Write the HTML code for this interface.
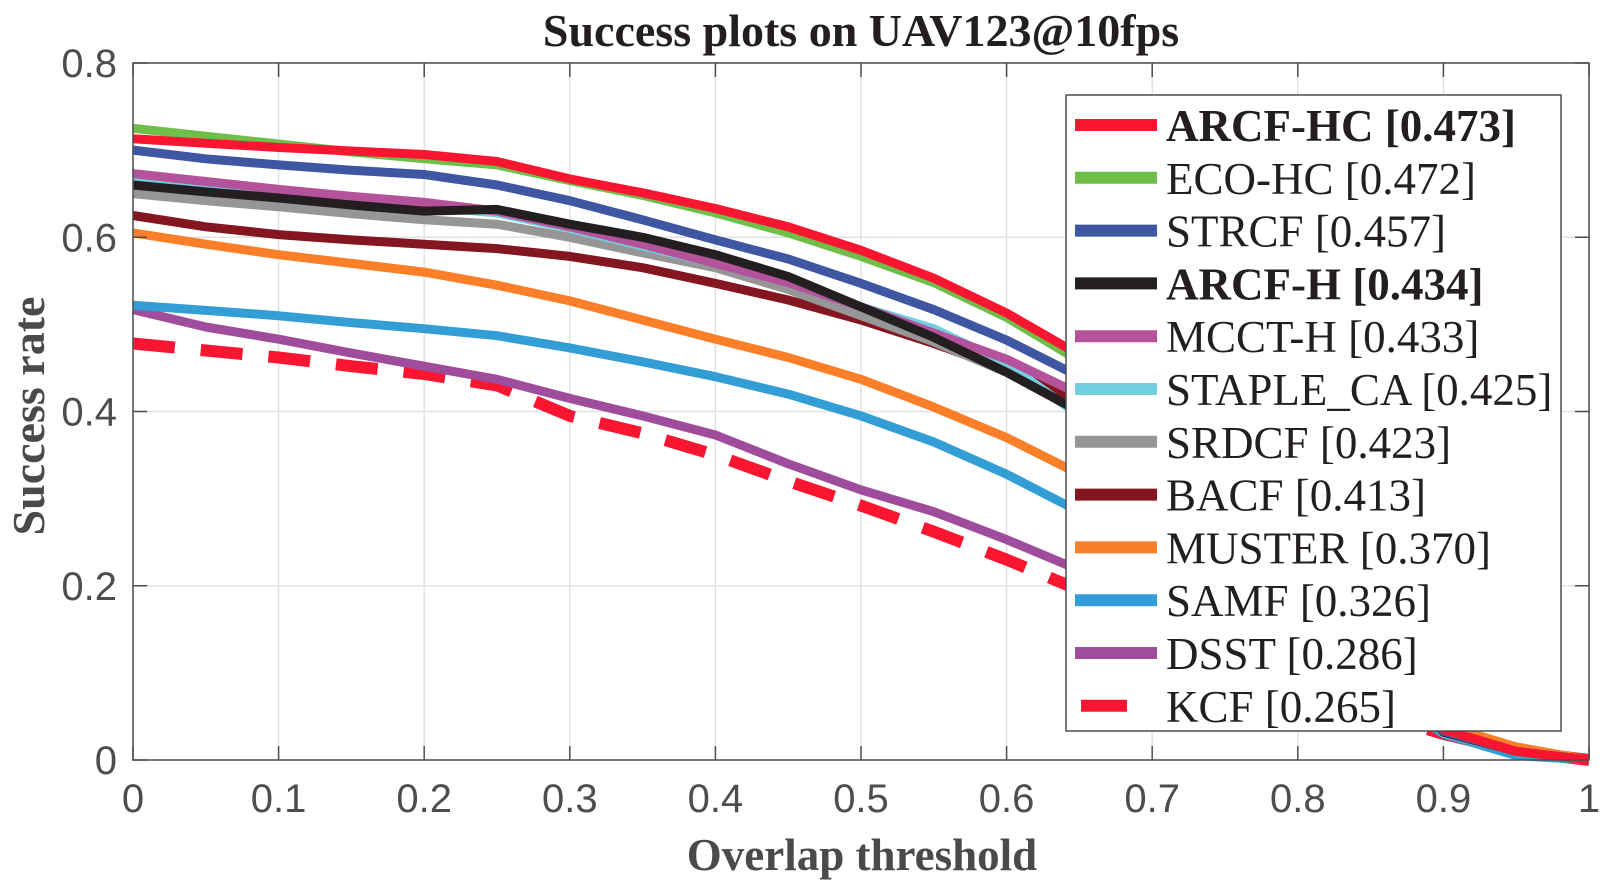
<!DOCTYPE html>
<html><head><meta charset="utf-8"><style>
html,body{margin:0;padding:0;background:#fff;}
svg{display:block;}
</style></head><body>
<svg id="chart" width="1617" height="884" xmlns="http://www.w3.org/2000/svg">
<rect x="0" y="0" width="1617" height="884" fill="#fff"/>
<text x="861" y="46" text-anchor="middle" font-family="Liberation Serif, serif" font-weight="bold" font-size="46" fill="#231f20">Success plots on UAV123@10fps</text>
<g id="grid"></g>
<g id="series"></g>
<g id="axes"></g>
<text x="862" y="870" text-anchor="middle" font-family="Liberation Serif, serif" font-weight="bold" font-size="45" fill="#4a4a4a">Overlap threshold</text>
<text transform="translate(44,416) rotate(-90)" text-anchor="middle" font-family="Liberation Serif, serif" font-weight="bold" font-size="46" fill="#4a4a4a">Success rate</text>
<g id="legend"></g>
</svg>
<script>
const thresholds = [0,0.05,0.1,0.15,0.2,0.25,0.3,0.35,0.4,0.45,0.5,0.55,0.6,0.65,0.7,0.75,0.8,0.85,0.9,0.95,1];
const xTicks = [0,0.1,0.2,0.3,0.4,0.5,0.6,0.7,0.8,0.9,1];
const xTickLabels = ["0","0.1","0.2","0.3","0.4","0.5","0.6","0.7","0.8","0.9","1"];
const yTicks = [0,0.2,0.4,0.6,0.8];
const yTickLabels = ["0","0.2","0.4","0.6","0.8"];
const names = ["ARCF-HC","ECO-HC","STRCF","ARCF-H","MCCT-H","STAPLE_CA","SRDCF","BACF","MUSTER","SAMF","DSST","KCF"];
const scores = ["0.473","0.472","0.457","0.434","0.433","0.425","0.423","0.413","0.370","0.326","0.286","0.265"];
const arcfHC  = [0.713,0.708,0.703,0.699,0.695,0.687,0.667,0.651,0.633,0.612,0.585,0.553,0.513,0.465,0.41,0.34,0.26,0.16,0.035,0.01,0];
const ecoHC   = [0.725,0.716,0.707,0.698,0.690,0.683,0.665,0.648,0.628,0.605,0.578,0.548,0.508,0.458,0.40,0.33,0.25,0.155,0.035,0.01,0];
const strcf   = [0.700,0.690,0.683,0.677,0.672,0.660,0.642,0.620,0.597,0.575,0.547,0.517,0.482,0.440,0.38,0.31,0.235,0.145,0.033,0.01,0];
const arcfH   = [0.660,0.652,0.645,0.637,0.630,0.632,0.615,0.600,0.580,0.555,0.520,0.485,0.445,0.400,0.35,0.29,0.22,0.135,0.032,0.01,0];
const mcctH   = [0.673,0.664,0.655,0.647,0.640,0.630,0.612,0.592,0.570,0.548,0.520,0.490,0.460,0.420,0.36,0.295,0.22,0.135,0.032,0.01,0];
const stapleCA= [0.665,0.657,0.650,0.642,0.635,0.628,0.610,0.590,0.570,0.548,0.520,0.495,0.455,0.395,0.345,0.285,0.215,0.13,0.031,0.01,0];
const srdcf   = [0.650,0.642,0.635,0.627,0.620,0.615,0.600,0.582,0.565,0.540,0.510,0.480,0.445,0.400,0.345,0.285,0.215,0.13,0.031,0.01,0];
const bacf    = [0.625,0.612,0.603,0.597,0.592,0.587,0.578,0.565,0.547,0.528,0.505,0.478,0.448,0.410,0.35,0.285,0.21,0.125,0.031,0.01,0];
const muster  = [0.605,0.592,0.580,0.570,0.560,0.545,0.527,0.505,0.483,0.462,0.437,0.405,0.370,0.328,0.28,0.23,0.17,0.105,0.04,0.015,0];
const samf    = [0.522,0.516,0.510,0.502,0.495,0.487,0.473,0.457,0.440,0.420,0.395,0.365,0.328,0.285,0.24,0.19,0.14,0.085,0.03,0.005,0];
const dsst    = [0.517,0.497,0.483,0.467,0.452,0.437,0.415,0.395,0.373,0.340,0.310,0.285,0.253,0.218,0.18,0.14,0.10,0.06,0.035,0.015,0];
const kcf     = [0.478,0.470,0.462,0.452,0.443,0.430,0.395,0.375,0.350,0.320,0.292,0.262,0.230,0.195,0.16,0.125,0.09,0.055,0.03,0.01,0];
const seriesValues = [arcfHC,ecoHC,strcf,arcfH,mcctH,stapleCA,srdcf,bacf,muster,samf,dsst,kcf];
const colors = ["#fa1530","#6fbe4a","#3f57a3","#231f20","#b5529c","#72cfdf","#969696","#841621","#fa7f28","#339ed5","#9e4c9b","#fa1530"];
const boldFlags = [true,false,false,true,false,false,false,false,false,false,false,false];

const NS = "http://www.w3.org/2000/svg";
const L=133, R=1589, T=63, B=760;
function xs(v){ return L + v*(R-L); }
function ys(v){ return B - v/0.8*(B-T); }
function mk(tag, attrs, parent){ const e=document.createElementNS(NS,tag); for(const k in attrs) e.setAttribute(k,attrs[k]); parent.appendChild(e); return e; }

const grid=document.getElementById('grid'), axes=document.getElementById('axes');
xTicks.forEach((t,i)=>{
  const g=mk('line',{x1:xs(t),x2:xs(t),y1:T,y2:B,stroke:'#e2e2e2','stroke-width':1.5},grid);
  
  
  mk('line',{x1:xs(t),x2:xs(t),y1:B,y2:B-14,stroke:'#4d4d4d','stroke-width':1.5},axes);
  mk('line',{x1:xs(t),x2:xs(t),y1:T,y2:T+14,stroke:'#4d4d4d','stroke-width':1.5},axes);
  const tx=mk('text',{x:xs(t),y:B+52,'text-anchor':'middle','font-family':'Liberation Sans, sans-serif','font-size':40,fill:'#4d4d4d'},axes);
  tx.textContent=xTickLabels[i];
  
  
});
yTicks.forEach((t,i)=>{
  const g=mk('line',{x1:L,x2:R,y1:ys(t),y2:ys(t),stroke:'#e2e2e2','stroke-width':1.5},grid);
  
  
  mk('line',{x1:L,x2:L+14,y1:ys(t),y2:ys(t),stroke:'#4d4d4d','stroke-width':1.5},axes);
  mk('line',{x1:R,x2:R-14,y1:ys(t),y2:ys(t),stroke:'#4d4d4d','stroke-width':1.5},axes);
  const tx=mk('text',{x:117,y:ys(t)+14,'text-anchor':'end','font-family':'Liberation Sans, sans-serif','font-size':40,fill:'#4d4d4d'},axes);
  tx.textContent=yTickLabels[i];
  
  
});
const frame=mk('rect',{x:L,y:T,width:R-L,height:B-T,fill:'none',stroke:'#4d4d4d','stroke-width':1.5},axes);



const sg=document.getElementById('series');
for(let s=seriesValues.length-1;s>=0;s--){
  const vals=seriesValues[s];
  const d=vals.map((v,i)=>(i?'L':'M')+xs(thresholds[i]).toFixed(1)+','+ys(v).toFixed(1)).join(' ');
  const attrs={d:d,fill:'none',stroke:colors[s],'stroke-width':s===11?12:9,'stroke-linejoin':'round'};
  if(s===11){ attrs['stroke-dasharray']='42 26'; }
  const p=mk('path',attrs,sg);
  
  
}

const lg=document.getElementById('legend');
const box=mk('rect',{x:1066,y:95,width:495,height:636,fill:'#fff',stroke:'#4d4d4d','stroke-width':1.5},lg);


names.forEach((n,i)=>{
  const cy=125+i*52.8;
  const la={x1:1075,x2:1157,y1:cy,y2:cy,stroke:colors[i],'stroke-width':12};
  if(i===11){ la['stroke-dasharray']='46 36'; la['stroke-dashoffset']='-6'; }
  const ln=mk('line',la,lg);
  
  
  const tx=mk('text',{x:1166,y:cy+16,'font-family':'Liberation Serif, serif','font-size':45,fill:'#231f20','font-weight':boldFlags[i]?'bold':'normal'},lg);
  tx.textContent=n+' ['+scores[i]+']';
  
  
});
</script>
</body></html>
